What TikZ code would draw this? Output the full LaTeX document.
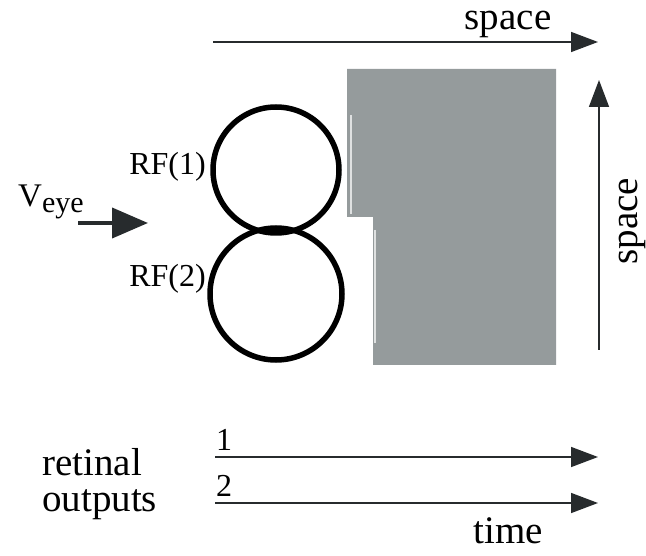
\documentclass[tikz,border=0pt]{standalone}
\usepackage{fontspec}
\setmainfont{Liberation Serif}
\usetikzlibrary{arrows.meta}
\definecolor{arr}{HTML}{272B2D}
\definecolor{grayfill}{HTML}{959B9C}
\tikzset{
  big/.style={font=\fontsize{39}{41}\selectfont, inner sep=0pt, text=black},
  rflab/.style={font=\fontsize{32}{34}\selectfont, inner sep=0pt, text=black},
  thinarrow/.style={draw=arr, line width=1.5pt, -{Triangle[length=27pt,width=20pt]}},
  rfcircle/.style={draw=black, line width=5.5pt, circle, minimum size=#1, inner sep=0pt},
}
\begin{document}
\begin{tikzpicture}[x=1pt,y=-1pt]
\useasboundingbox (0,0) rectangle (646,556);
% gray stimulus
\fill[grayfill] (347,69) -- (556,69) -- (556,365) -- (373,365) -- (373,217) -- (347,217) -- cycle;
\draw[white, line width=1.2pt, opacity=0.7] (351,115) -- (351,214);
\draw[white, line width=1.2pt, opacity=0.7] (375,230) -- (375,343);
% receptive fields
\node[rfcircle=126pt] (rf1) at (276,170) {};
\node[rfcircle=132pt] (rf2) at (276,294) {};
\node[rflab, anchor=base east] (l1) at (206,175) {RF(1)};
\node[rflab, anchor=base east] (l2) at (206,287) {RF(2)};
% eye velocity
\coordinate (v0) at (78,223);
\coordinate (v1) at (148,223);
\draw[draw=arr, line width=4pt, -{Triangle[length=36pt,width=30pt]}] (v0) -- (v1);
\node[inner sep=0pt, anchor=base west, text=black] (veye) at (18,207) {\fontsize{33}{35}\selectfont V\raisebox{-6pt}{\fontsize{30}{32}\selectfont eye}};
% space arrows
\coordinate (s0) at (213,42);
\coordinate (s1) at (598,42);
\draw[thinarrow] (s0) -- (s1);
\node[big, anchor=base] (sp1) at (508,30) {space};
\coordinate (u0) at (599,350);
\coordinate (u1) at (599,80);
\draw[thinarrow] (u0) -- (u1);
\node[big, rotate=90, anchor=base] (sp2) at (637,221) {space};
% retinal outputs
\coordinate (a0) at (215,457);
\coordinate (a1) at (598,457);
\coordinate (b0) at (215,503);
\coordinate (b1) at (598,503);
\draw[thinarrow] (a0) -- (a1);
\draw[thinarrow] (b0) -- (b1);
\node[rflab, anchor=base west] (n1) at (216,450) {1};
\node[rflab, anchor=base west] (n2) at (216,496) {2};
\node[big, anchor=base west] (ret) at (42,475) {retinal};
\node[big, anchor=base west] (out) at (42,511) {outputs};
\node[big, anchor=base] (time) at (508,543) {time};
\end{tikzpicture}
\end{document}
